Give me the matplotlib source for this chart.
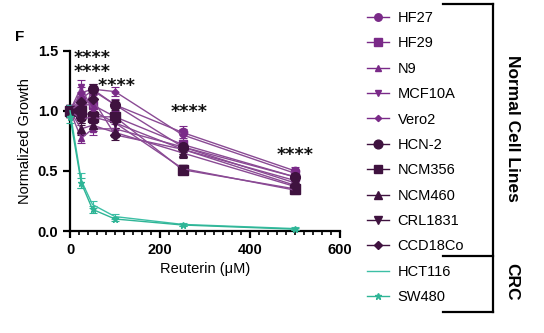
import matplotlib
matplotlib.use('Agg')
import matplotlib.pyplot as plt
import matplotlib.lines as mlines
from matplotlib.ticker import MultipleLocator

plt.rcParams['font.family'] = ['Liberation Sans', 'DejaVu Sans']

doses = [0, 25, 50, 100, 250, 500]

names = ['HF27', 'HF29', 'N9', 'MCF10A', 'Vero2', 'HCN-2',
         'NCM356', 'NCM460', 'CRL1831', 'CCD18Co', 'HCT116', 'SW480']

growth = [
    [1.00, 1.10, 1.17, 1.05, 0.82, 0.50],
    [1.00, 1.05, 1.05, 0.95, 0.72, 0.45],
    [1.00, 0.77, 0.85, 0.85, 0.70, 0.40],
    [1.00, 1.20, 1.00, 0.90, 0.68, 0.42],
    [1.00, 1.15, 1.18, 1.16, 0.80, 0.48],
    [1.00, 0.95, 1.18, 1.05, 0.70, 0.45],
    [1.00, 1.00, 0.95, 0.95, 0.51, 0.35],
    [1.00, 0.85, 0.88, 0.82, 0.65, 0.37],
    [1.00, 0.93, 0.95, 0.90, 0.52, 0.34],
    [1.00, 1.07, 1.10, 0.80, 0.68, 0.38],
    [1.00, 0.42, 0.22, 0.12, 0.055, 0.020],
    [0.95, 0.40, 0.18, 0.10, 0.050, 0.015],
]

errors = [
    [0.05, 0.06, 0.04, 0.05, 0.05, 0.03],
    [0.05, 0.05, 0.05, 0.04, 0.04, 0.03],
    [0.05, 0.04, 0.05, 0.04, 0.04, 0.03],
    [0.05, 0.06, 0.05, 0.04, 0.04, 0.03],
    [0.05, 0.05, 0.04, 0.04, 0.05, 0.03],
    [0.05, 0.05, 0.04, 0.04, 0.04, 0.03],
    [0.05, 0.05, 0.05, 0.04, 0.03, 0.03],
    [0.05, 0.05, 0.05, 0.04, 0.04, 0.03],
    [0.05, 0.05, 0.05, 0.04, 0.03, 0.03],
    [0.05, 0.05, 0.05, 0.04, 0.04, 0.03],
    [0.05, 0.06, 0.03, 0.02, 0.01, 0.01],
    [0.05, 0.04, 0.03, 0.02, 0.01, 0.01],
]

markers = ['o', 's', '^', 'v', 'D', 'o', 's', '^', 'v', 'D', '', '*']
sizes = [6, 6, 5, 5, 3.5, 7, 7, 6, 6, 5, 0, 5]
colors = ['#7a2a88', '#7a2a88', '#7a2a88', '#7a2a88', '#7a2a88',
          '#3f123f', '#3f123f', '#3f123f', '#3f123f', '#3f123f',
          '#3cbfa5', '#2fb596']
line_colors = ['#8a4a94'] * 10 + ['#3cbfa5', '#2fb596']

# significance marks: the three stacked ones near the low doses share one text
stars_top = (9, 1.515, '****\n****\n    ****')
stars = [(265, 0.99), (500, 0.63)]

fig = plt.figure(figsize=(5.44, 3.33), dpi=100)
ax = fig.add_axes([0.1287, 0.3063, 0.4963, 0.5414])

handles = []
for i in range(len(names)):
    ax.errorbar(doses, growth[i], yerr=errors[i], color=line_colors[i],
                ecolor=colors[i], elinewidth=0.8, capsize=3, capthick=0.8,
                lw=1.0, marker=markers[i] or None, ms=sizes[i],
                mfc=colors[i], mec=colors[i], clip_on=False, zorder=3)
    h = mlines.Line2D([], [], color=colors[i], lw=1.0,
                      marker=markers[i] or None, ms=sizes[i] * 0.9,
                      mfc=colors[i], mec=colors[i])
    handles.append(h)

star_kw = dict(fontsize=12.5, fontweight='bold', color='#111111',
               family='DejaVu Sans')
ax.text(stars_top[0], stars_top[1], stars_top[2], ha='left', va='top',
        multialignment='left', linespacing=0.7, **star_kw)
for x, y in stars:
    ax.text(x, y, '****', ha='center', va='center', **star_kw)

ax.set_xlim(0, 600)
ax.set_ylim(0, 1.5)
ax.set_xticks([0, 200, 400, 600])
ax.set_yticks([0, 0.5, 1.0, 1.5])
ax.xaxis.set_minor_locator(MultipleLocator(20))
ax.yaxis.set_major_formatter(plt.FormatStrFormatter('%.1f'))
for s in ['top', 'right']:
    ax.spines[s].set_visible(False)
for s in ['left', 'bottom']:
    ax.spines[s].set_linewidth(1.6)
ax.tick_params(which='major', length=5, width=1.6, labelsize=10.5)
ax.tick_params(which='minor', length=3, width=1.2)
for lab in ax.get_xticklabels() + ax.get_yticklabels():
    lab.set_fontweight('bold')

ax.set_xlabel('Reuterin (\u03bcM)', fontsize=10.5, labelpad=4)
ax.set_ylabel('Normalized Growth', fontsize=10.5, labelpad=4)

fig.text(15 / 544, 1 - 37 / 333, 'F', fontsize=11, fontweight='bold',
         ha='left', va='center')

fig.legend(handles, names, loc='upper left',
           bbox_to_anchor=(367 / 544, 1 - 11 / 333), frameon=False,
           fontsize=10.5, handlelength=1.5, handletextpad=0.6,
           labelspacing=0.78, borderpad=0, borderaxespad=0)

# bracket grouping the legend entries
def fline(xs, ys):
    fig.add_artist(mlines.Line2D([x / 544 for x in xs],
                                 [1 - y / 333 for y in ys],
                                 color='black', lw=1.6))

fline([443, 493], [4, 4])
fline([493, 493], [4, 312])
fline([443, 493], [256, 256])
fline([443, 493], [312, 312])

fig.text(512 / 544, 1 - 128 / 333, 'Normal Cell Lines', rotation=-90,
         fontsize=12.5, fontweight='bold', ha='center', va='center')
fig.text(512 / 544, 1 - 282 / 333, 'CRC', rotation=-90,
         fontsize=12.5, fontweight='bold', ha='center', va='center')

plt.savefig('out.png', dpi=100)
